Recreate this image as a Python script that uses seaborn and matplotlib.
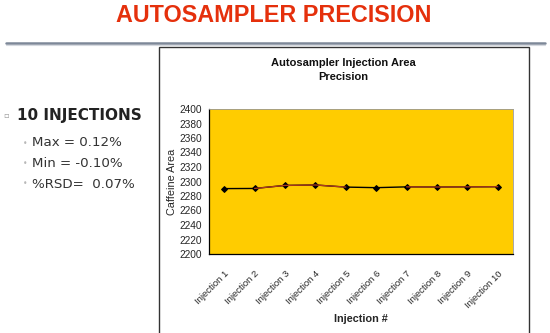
import matplotlib
matplotlib.use("Agg")
import matplotlib.pyplot as plt
from matplotlib.patches import Rectangle
from matplotlib.lines import Line2D
import numpy as np
import pandas as pd
import seaborn as sns

# Injection labels and measured caffeine peak areas
injections = [f"Injection {i}" for i in range(1, 11)]
areas = [2290.2, 2290.4, 2294.6, 2295.2, 2292.3, 2291.5, 2292.6, 2292.4, 2292.6, 2292.8]
y_ticks = list(range(2200, 2401, 20))

summary_title = "10 INJECTIONS"
summary_items = ["Max = 0.12%", "Min = -0.10%", "%RSD=  0.07%"]

sns.set_theme(style="white")
narrow = ["Liberation Sans Narrow", "Liberation Sans", "DejaVu Sans"]

W, H = 550, 333
fig = plt.figure(figsize=(W / 100, H / 100), dpi=100)
fig.patch.set_facecolor("white")

def fx(px):
    return px / W

def fy(py):
    return 1 - py / H

# Slide heading and rule
fig.text(fx(274), fy(15.5), "AUTOSAMPLER PRECISION", ha="center", va="center",
         fontsize=16.8, fontweight="bold", color="#e5300c",
         family=["Liberation Sans", "DejaVu Sans"])
fig.add_artist(Line2D([fx(6), fx(545)], [fy(42.5), fy(42.5)], color="#7d8898", lw=1.8))
fig.add_artist(Line2D([fx(6), fx(545)], [fy(44.5), fy(44.5)], color="#d5d9df", lw=0.8))

# Summary bullets
fig.text(fx(3), fy(116), "\u25ab", ha="left", va="center", fontsize=6, color="#9a9a9a")
fig.text(fx(17), fy(116), summary_title, ha="left", va="center", fontsize=11,
         fontweight="bold", color="#222222", family="DejaVu Sans")
for i, item in enumerate(summary_items):
    yy = 143 + i * 20.5
    fig.text(fx(23), fy(yy), "\u2022", ha="left", va="center", fontsize=5.5, color="#b8b8b8")
    fig.text(fx(32), fy(yy), item, ha="left", va="center", fontsize=9.6,
             color="#333333", family="DejaVu Sans")

# Chart frame
fig.add_artist(Rectangle((fx(159), -0.02), fx(529) - fx(159), fy(47) + 0.02,
                         transform=fig.transFigure, facecolor="white",
                         edgecolor="#333333", lw=1.0, zorder=0))

ax = fig.add_axes([fx(209), fy(254), fx(513) - fx(209), fy(109) - fy(254)])
ax.set_facecolor("#FFCC00")

df = pd.DataFrame({"Injection": injections, "Area": areas})
sns.lineplot(data=df, x="Injection", y="Area", ax=ax, sort=False, color="black",
             lw=1.0, marker="D", markersize=3, markeredgecolor="black",
             markerfacecolor="black")
# reddish overlay on part of the trace
ax.plot(range(1, 5), df["Area"].iloc[1:5], color="#b03a1e", lw=0.9, zorder=3)
ax.plot(range(6, 10), df["Area"].iloc[6:10], color="#b03a1e", lw=0.9, zorder=3)

ax.set_ylim(2200, 2400)
ax.set_xlim(-0.5, 9.5)
ax.set_yticks(y_ticks)
ax.set_yticklabels([str(t) for t in y_ticks], fontsize=7.3, family=narrow)
ax.set_xticks(range(len(injections)))
ax.set_xticklabels(injections, rotation=45, ha="right", rotation_mode="anchor",
                   fontsize=6.8, family=narrow)
ax.set_xticks(np.arange(-0.5, 10, 1), minor=True)
ax.tick_params(axis="x", which="major", length=0, pad=11)
ax.tick_params(axis="x", which="minor", length=3, width=0.8, color="black", direction="out")
ax.tick_params(axis="y", length=3, width=0.8, color="black", direction="out", pad=2)
ax.set_ylabel("Caffeine Area", fontsize=7.8, family=narrow, labelpad=2)
ax.set_xlabel("Injection #", fontsize=7.8, fontweight="bold", family=narrow, labelpad=3)

for side in ["left", "bottom"]:
    ax.spines[side].set_color("black")
    ax.spines[side].set_linewidth(0.9)
for side in ["top", "right"]:
    ax.spines[side].set_color("#999999")
    ax.spines[side].set_linewidth(0.6)

fig.text(fx(343), fy(70), "Autosampler Injection Area\nPrecision", ha="center",
         va="center", fontsize=8, fontweight="bold", linespacing=1.5,
         family=narrow, color="#111111")

fig.savefig("out.png", dpi=100, facecolor="white")
